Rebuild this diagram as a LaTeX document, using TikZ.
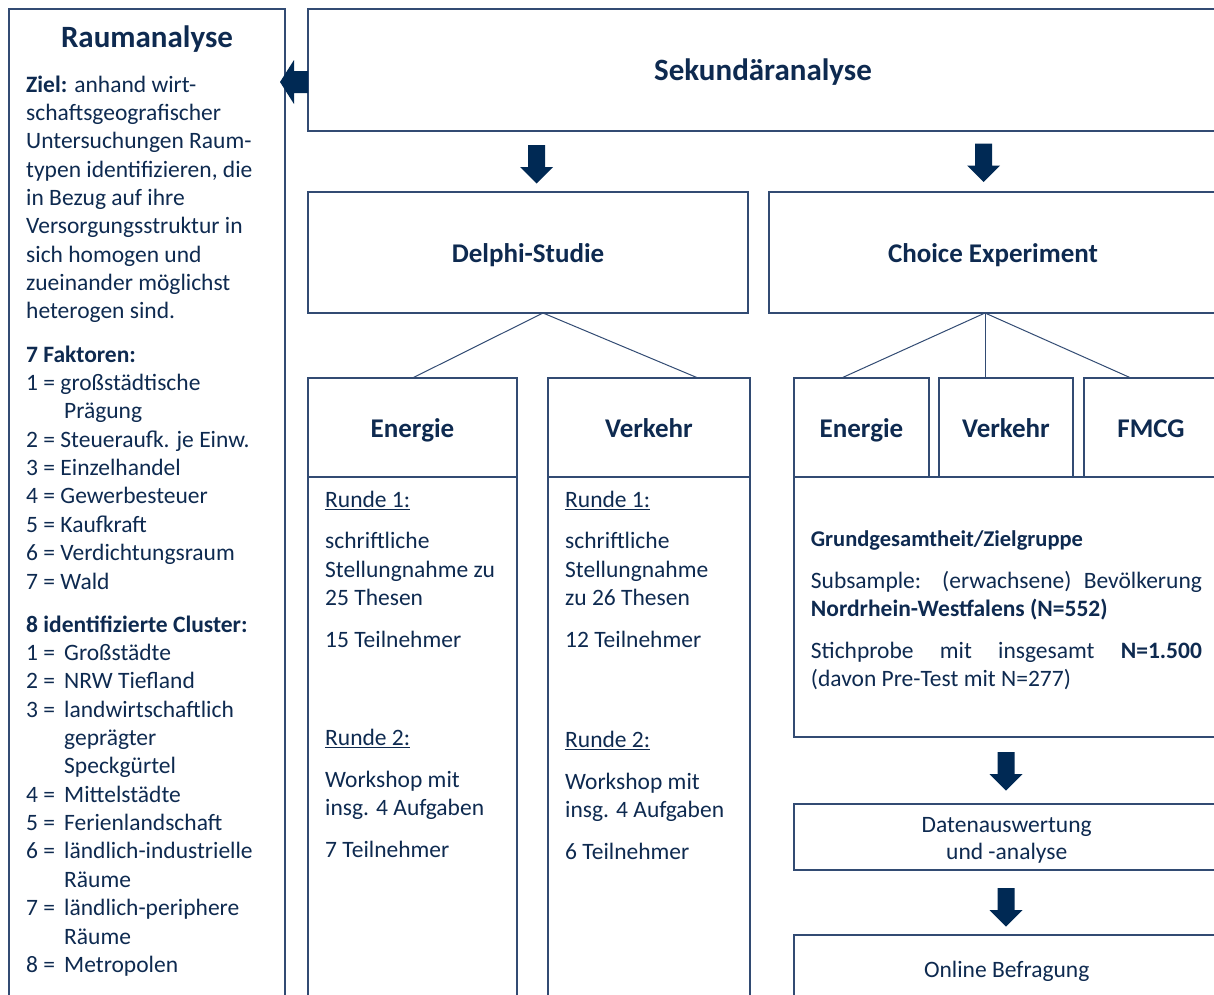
\documentclass[tikz,border=0pt]{standalone}
\usepackage{fontspec}
\setmainfont{Carlito}
\usetikzlibrary{calc,fit}
\definecolor{navy}{RGB}{0,41,84}
\definecolor{txtc}{RGB}{14,42,80}
\definecolor{bord}{RGB}{50,75,115}
\begin{document}
\begin{tikzpicture}[x=1pt,y=-1pt,
  box/.style={draw=bord, line width=1.2pt, inner sep=0pt, outer sep=0pt},
  txt/.style={anchor=base west, inner sep=0pt, text=txtc, font=\fontsize{23.5}{28}\selectfont},
  ctxt/.style={txt, anchor=base},
  hd/.style={anchor=base, inner sep=0pt, text=txtc, font=\fontsize{27}{32}\selectfont\bfseries},
  hdl/.style={hd, font=\fontsize{31}{36}\selectfont\bfseries},
  conn/.style={draw=bord, line width=1pt},
  pics/darrow/.style={code={\fill[navy] (-8.5,0) -- (8.5,0) -- (8.5,22) -- (16.5,22) -- (0,38.5) -- (-16.5,22) -- (-8.5,22) -- cycle;}},
  pics/larrow/.style={code={\fill[navy] (0,0) -- (14,-22) -- (14,-11) -- (28,-11) -- (28,11) -- (14,11) -- (14,22) -- cycle;}}
]
\useasboundingbox (0,0) rectangle (1214,994);
\clip (0,0) rectangle (1214,994);
\fill[white] (0,0) rectangle (1214,994);

% boxes
\node[box, fit={(9,9)(285,1010)}] (raum) {};
\node[box, fit={(308,9)(1218,131)}] (sek) {};
\node[box, fit={(308,192)(748,313)}] (delphi) {};
\node[box, fit={(769,192)(1217,313)}] (choice) {};
\node[box, fit={(308,378)(517,477)}] (de) {};
\node[box, fit={(308,477)(517,1010)}] (deb) {};
\node[box, fit={(548,378)(750,477)}] (dv) {};
\node[box, fit={(548,477)(750,1010)}] (dvb) {};
\node[box, fit={(794,477)(1218,737)}] (cb) {};
\node[box, fit={(794,378)(929,477)}] (ce) {};
\node[box, fit={(939,378)(1073,477)}] (cv) {};
\node[box, fit={(1084,378)(1218,477)}] (cf) {};
\node[box, fit={(794,804)(1218,870)}] (daten) {};
\node[box, fit={(794,935)(1218,1010)}] (online) {};

% block arrows
\pic at (280,82) {larrow};
\pic at (536.5,145) {darrow};
\pic at (983.5,143.5) {darrow};
\pic at (1006,752) {darrow};
\pic at (1006,888) {darrow};

% connectors
\coordinate (apD) at ([xshift=15pt]delphi.south);
\draw[conn] (de.north) -- (apD) -- ([xshift=49pt]dv.north);
\coordinate (apC) at ([xshift=-8pt]choice.south);
\draw[conn] ([xshift=-20pt]ce.north) -- (apC) -- ([xshift=-20pt]cf.north);
\draw[conn] (apC) -- (apC |- cv.north);

% titles
\node[hdl] (tRaum) at (147,47.5) {Raumanalyse};
\node[hdl] (tSek) at (763,80.5) {Sekundäranalyse};
\node[hd] (tDel) at (528,262.2) {Delphi-Studie};
\node[hd] (tCho) at (993,262.2) {Choice Experiment};
\node[hd] (tDE) at (412.5,437.2) {Energie};
\node[hd] (tDV) at (649,437.2) {Verkehr};
\node[hd] (tCE) at (861.5,437.2) {Energie};
\node[hd] (tCV) at (1006,437.2) {Verkehr};
\node[hd] (tCF) at (1151,437.2) {FMCG};

% left column
\foreach \x/\y/\tx [count=\i] in {
 26/92/{\textbf{Ziel:} anhand wirt-},
 26/120.35/{schaftsgeografischer},
 26/148.7/{Untersuchungen Raum-},
 26/177.05/{typen identifizieren, die},
 26/205.4/{in Bezug auf ihre},
 26/233.75/{Versorgungsstruktur in},
 26/262.1/{sich homogen und},
 26/290.45/{zueinander möglichst},
 26/318.8/{heterogen sind.},
 26/362.2/{\textbf{7 Faktoren:}},
 26/390.55/{1 = großstädtische},
 64/418.9/{Prägung},
 26/447.25/{2 = Steueraufk. je Einw.},
 26/475.6/{3 = Einzelhandel},
 26/503.95/{4 = Gewerbesteuer},
 26/532.3/{5 = Kaufkraft},
 26/560.65/{6 = Verdichtungsraum},
 26/589/{7 = Wald},
 26/632.2/{\textbf{8 identifizierte Cluster:}},
 26/660.5/{1 =}, 64/660.5/{Großstädte},
 26/688.85/{2 =}, 64/688.85/{NRW Tiefland},
 26/717.2/{3 =}, 64/717.2/{landwirtschaftlich},
 64/745.55/{geprägter},
 64/773.9/{Speckgürtel},
 26/802.25/{4 =}, 64/802.25/{Mittelstädte},
 26/830.6/{5 =}, 64/830.6/{Ferienlandschaft},
 26/858.95/{6 =}, 64/858.95/{ländlich-industrielle},
 64/887.3/{Räume},
 26/915.65/{7 =}, 64/915.65/{ländlich-periphere},
 64/944/{Räume},
 26/972.35/{8 =}, 64/972.35/{Metropolen}}
 \node[txt] (l\i) at (\x,\y) {\tx};

% Delphi Energie column
\node[txt] (e1) at (325,507.2) {\underline{Runde 1:}};
\node[txt] (e2) at (325,548.8) {schriftliche};
\node[txt] (e3) at (325,577.2) {Stellungnahme zu};
\node[txt] (e4) at (325,605.5) {25 Thesen};
\node[txt] (e5) at (325,647.2) {15 Teilnehmer};
\node[txt] (e6) at (325,745.5) {\underline{Runde 2:}};
\node[txt] (e7) at (325,787.5) {Workshop mit};
\node[txt] (e8) at (325,815.5) {insg. 4 Aufgaben};
\node[txt] (e9) at (325,857.2) {7 Teilnehmer};

% Delphi Verkehr column
\node[txt] (v1) at (565,507.2) {\underline{Runde 1:}};
\node[txt] (v2) at (565,548.8) {schriftliche};
\node[txt] (v3) at (565,577.2) {Stellungnahme};
\node[txt] (v4) at (565,605.5) {zu 26 Thesen};
\node[txt] (v5) at (565,647.2) {12 Teilnehmer};
\node[txt] (v6) at (565,747.2) {\underline{Runde 2:}};
\node[txt] (v7) at (565,789.5) {Workshop mit};
\node[txt] (v8) at (565,817.5) {insg. 4 Aufgaben};
\node[txt] (v9) at (565,859) {6 Teilnehmer};

% Choice body
\node[txt, font=\fontsize{22.5}{27}\selectfont\bfseries] (g1) at (810.7,546.2) {Grundgesamtheit/Zielgruppe};
\node[txt] (g2) at (810.7,588.8) {\makebox[391pt][s]{Subsample: (erwachsene) Bevölkerung}};
\node[txt] (g3) at (810.7,616.5) {\textbf{Nordrhein-Westfalens (N=552)}};
\node[txt] (g4) at (810.7,658.8) {\makebox[391pt][s]{Stichprobe mit insgesamt \textbf{N=1.500}}};
\node[txt] (g5) at (810.7,686.5) {(davon Pre-Test mit N=277)};

\node[ctxt] (d1) at (1006.7,832.2) {Datenauswertung};
\node[ctxt] (d2) at (1006.7,859.8) {und -analyse};
\node[ctxt] (o1) at (1006.7,977.2) {Online Befragung};
\end{tikzpicture}
\end{document}
